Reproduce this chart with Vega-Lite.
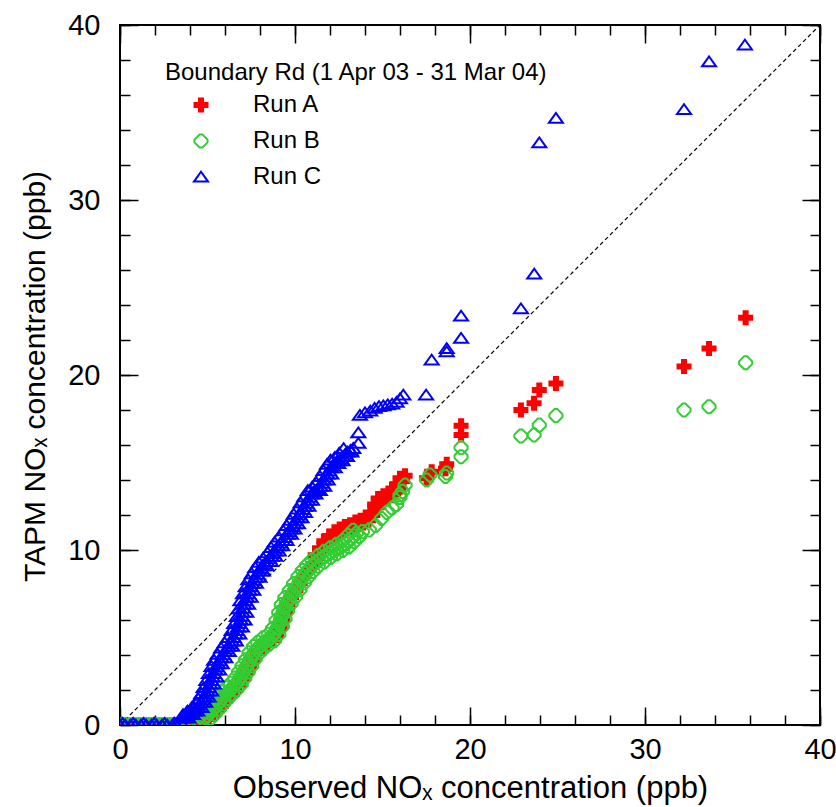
{
  "$schema": "https://vega.github.io/schema/vega-lite/v6.json",
  "autosize": "none",
  "padding": {"left": 120, "top": 25, "right": 16, "bottom": 82},
  "width": 700,
  "height": 700,
  "background": "white",
  "config": {
    "view": {"stroke": "black", "strokeWidth": 2},
    "font": "Liberation Sans"
  },
  "data": {"values": [
      {"run":"Run A","obs":0,"tapm":0},{"run":"Run A","obs":0.3,"tapm":0},{"run":"Run A","obs":0.6,"tapm":0},{"run":"Run A","obs":0.9,"tapm":0},{"run":"Run A","obs":1.2,"tapm":0},{"run":"Run A","obs":1.5,"tapm":0},{"run":"Run A","obs":1.8,"tapm":0},{"run":"Run A","obs":2.1,"tapm":0},{"run":"Run A","obs":2.4,"tapm":0},{"run":"Run A","obs":2.7,"tapm":0},{"run":"Run A","obs":3.0,"tapm":0},{"run":"Run A","obs":3.3,"tapm":0},{"run":"Run A","obs":3.6,"tapm":0},{"run":"Run A","obs":3.9,"tapm":0},{"run":"Run A","obs":4.2,"tapm":0},{"run":"Run A","obs":4.5,"tapm":0.02},
      {"run":"Run A","obs":4.8,"tapm":0.12},{"run":"Run A","obs":5.05,"tapm":0.35},{"run":"Run A","obs":5.3,"tapm":0.6},{"run":"Run A","obs":5.55,"tapm":0.85},{"run":"Run A","obs":5.8,"tapm":1.1},{"run":"Run A","obs":6.05,"tapm":1.4},{"run":"Run A","obs":6.3,"tapm":1.7},{"run":"Run A","obs":6.55,"tapm":2.0},{"run":"Run A","obs":6.8,"tapm":2.3},{"run":"Run A","obs":7.0,"tapm":2.65},{"run":"Run A","obs":7.2,"tapm":3.0},{"run":"Run A","obs":7.4,"tapm":3.35},{"run":"Run A","obs":7.6,"tapm":3.7},{"run":"Run A","obs":7.85,"tapm":4.1},{"run":"Run A","obs":8.1,"tapm":4.4},{"run":"Run A","obs":8.4,"tapm":4.65},{"run":"Run A","obs":8.7,"tapm":4.85},{"run":"Run A","obs":8.95,"tapm":5.15},{"run":"Run A","obs":9.15,"tapm":5.55},{"run":"Run A","obs":9.3,"tapm":6.0},{"run":"Run A","obs":9.45,"tapm":6.45},{"run":"Run A","obs":9.6,"tapm":6.9},{"run":"Run A","obs":9.8,"tapm":7.3},{"run":"Run A","obs":10.05,"tapm":7.7},{"run":"Run A","obs":10.3,"tapm":8.1},{"run":"Run A","obs":10.55,"tapm":8.5},{"run":"Run A","obs":10.8,"tapm":8.85},{"run":"Run A","obs":11.05,"tapm":9.2},{"run":"Run A","obs":11.3,"tapm":9.55},{"run":"Run A","obs":11.55,"tapm":9.95},{"run":"Run A","obs":11.8,"tapm":10.35},{"run":"Run A","obs":12.1,"tapm":10.65},{"run":"Run A","obs":12.4,"tapm":10.9},{"run":"Run A","obs":12.7,"tapm":11.05},{"run":"Run A","obs":13.0,"tapm":11.2},{"run":"Run A","obs":13.3,"tapm":11.3},{"run":"Run A","obs":13.6,"tapm":11.45},{"run":"Run A","obs":13.9,"tapm":11.55},{"run":"Run A","obs":14.2,"tapm":11.7},{"run":"Run A","obs":14.45,"tapm":12.0},{"run":"Run A","obs":14.7,"tapm":12.45},{"run":"Run A","obs":14.9,"tapm":12.8},{"run":"Run A","obs":15.2,"tapm":12.95},{"run":"Run A","obs":15.5,"tapm":13.1},{"run":"Run A","obs":15.75,"tapm":13.35},{"run":"Run A","obs":15.95,"tapm":13.6},{"run":"Run A","obs":16.15,"tapm":13.95},{"run":"Run A","obs":16.29,"tapm":14.25},
      {"run":"Run A","obs":11.15,"tapm":9.7},{"run":"Run A","obs":11.4,"tapm":10.1},{"run":"Run A","obs":11.65,"tapm":10.5},{"run":"Run A","obs":11.95,"tapm":10.8},{"run":"Run A","obs":12.25,"tapm":11.05},{"run":"Run A","obs":12.55,"tapm":11.2},{"run":"Run A","obs":12.85,"tapm":11.35},{"run":"Run A","obs":13.15,"tapm":11.45},{"run":"Run A","obs":13.45,"tapm":11.6},{"run":"Run A","obs":13.75,"tapm":11.7},{"run":"Run A","obs":14.05,"tapm":11.85},{"run":"Run A","obs":14.3,"tapm":12.15},{"run":"Run A","obs":14.55,"tapm":12.6},{"run":"Run A","obs":14.75,"tapm":12.95},{"run":"Run A","obs":15.05,"tapm":13.1},{"run":"Run A","obs":15.35,"tapm":13.25},{"run":"Run A","obs":15.6,"tapm":13.5},{"run":"Run A","obs":15.8,"tapm":13.75},{"run":"Run A","obs":16.0,"tapm":14.1},
      {"run":"Run A","obs":15.9,"tapm":13.5},{"run":"Run A","obs":17.52,"tapm":14.1},{"run":"Run A","obs":17.81,"tapm":14.47},{"run":"Run A","obs":18.6,"tapm":14.65},{"run":"Run A","obs":18.67,"tapm":14.9},{"run":"Run A","obs":19.49,"tapm":16.57},{"run":"Run A","obs":19.49,"tapm":17.1},{"run":"Run A","obs":22.91,"tapm":18.0},{"run":"Run A","obs":23.66,"tapm":18.38},{"run":"Run A","obs":23.96,"tapm":19.14},{"run":"Run A","obs":24.91,"tapm":19.52},{"run":"Run A","obs":32.23,"tapm":20.48},{"run":"Run A","obs":33.66,"tapm":21.52},{"run":"Run A","obs":35.75,"tapm":23.27},
      {"run":"Run B","obs":0,"tapm":0},{"run":"Run B","obs":0.3,"tapm":0},{"run":"Run B","obs":0.6,"tapm":0},{"run":"Run B","obs":0.9,"tapm":0},{"run":"Run B","obs":1.2,"tapm":0},{"run":"Run B","obs":1.5,"tapm":0},{"run":"Run B","obs":1.8,"tapm":0},{"run":"Run B","obs":2.1,"tapm":0},{"run":"Run B","obs":2.4,"tapm":0},{"run":"Run B","obs":2.7,"tapm":0},{"run":"Run B","obs":3.0,"tapm":0},{"run":"Run B","obs":3.3,"tapm":0},{"run":"Run B","obs":3.6,"tapm":0},{"run":"Run B","obs":3.9,"tapm":0},{"run":"Run B","obs":4.2,"tapm":0.02},
      {"run":"Run B","obs":4.5,"tapm":0.1},{"run":"Run B","obs":4.75,"tapm":0.3},{"run":"Run B","obs":5.0,"tapm":0.55},{"run":"Run B","obs":5.25,"tapm":0.8},{"run":"Run B","obs":5.5,"tapm":1.1},{"run":"Run B","obs":5.75,"tapm":1.4},{"run":"Run B","obs":6.0,"tapm":1.7},{"run":"Run B","obs":6.25,"tapm":1.95},{"run":"Run B","obs":6.5,"tapm":2.2},{"run":"Run B","obs":6.75,"tapm":2.5},{"run":"Run B","obs":6.95,"tapm":2.85},{"run":"Run B","obs":7.15,"tapm":3.2},{"run":"Run B","obs":7.35,"tapm":3.55},{"run":"Run B","obs":7.55,"tapm":3.95},{"run":"Run B","obs":7.8,"tapm":4.3},{"run":"Run B","obs":8.05,"tapm":4.55},{"run":"Run B","obs":8.35,"tapm":4.8},{"run":"Run B","obs":8.65,"tapm":5.0},{"run":"Run B","obs":8.9,"tapm":5.35},{"run":"Run B","obs":9.1,"tapm":5.8},{"run":"Run B","obs":9.25,"tapm":6.25},{"run":"Run B","obs":9.4,"tapm":6.7},{"run":"Run B","obs":9.6,"tapm":7.1},{"run":"Run B","obs":9.85,"tapm":7.5},{"run":"Run B","obs":10.1,"tapm":7.9},{"run":"Run B","obs":10.35,"tapm":8.3},{"run":"Run B","obs":10.6,"tapm":8.65},{"run":"Run B","obs":10.85,"tapm":8.95},{"run":"Run B","obs":11.15,"tapm":9.25},{"run":"Run B","obs":11.5,"tapm":9.5},{"run":"Run B","obs":11.85,"tapm":9.75},{"run":"Run B","obs":12.2,"tapm":9.95},{"run":"Run B","obs":12.55,"tapm":10.15},{"run":"Run B","obs":12.9,"tapm":10.35},{"run":"Run B","obs":13.2,"tapm":10.65},{"run":"Run B","obs":13.5,"tapm":10.95},{"run":"Run B","obs":13.85,"tapm":11.05},{"run":"Run B","obs":14.25,"tapm":11.15},{"run":"Run B","obs":14.6,"tapm":11.4},{"run":"Run B","obs":14.95,"tapm":11.8},{"run":"Run B","obs":15.25,"tapm":12.15},{"run":"Run B","obs":15.55,"tapm":12.4},{"run":"Run B","obs":15.8,"tapm":12.6},{"run":"Run B","obs":16.0,"tapm":13.0},{"run":"Run B","obs":16.15,"tapm":13.35},{"run":"Run B","obs":16.29,"tapm":13.71},
      {"run":"Run B","obs":4.87,"tapm":0.42},{"run":"Run B","obs":5.12,"tapm":0.67},{"run":"Run B","obs":5.37,"tapm":0.95},{"run":"Run B","obs":5.62,"tapm":1.25},{"run":"Run B","obs":5.87,"tapm":1.55},{"run":"Run B","obs":6.12,"tapm":1.82},{"run":"Run B","obs":6.37,"tapm":2.07},{"run":"Run B","obs":6.62,"tapm":2.35},{"run":"Run B","obs":6.85,"tapm":2.67},{"run":"Run B","obs":7.05,"tapm":3.02},{"run":"Run B","obs":7.25,"tapm":3.37},{"run":"Run B","obs":7.45,"tapm":3.75},{"run":"Run B","obs":7.67,"tapm":4.12},{"run":"Run B","obs":7.92,"tapm":4.42},{"run":"Run B","obs":8.2,"tapm":4.67},{"run":"Run B","obs":8.5,"tapm":4.9},{"run":"Run B","obs":8.77,"tapm":5.17},{"run":"Run B","obs":9.0,"tapm":5.57},{"run":"Run B","obs":9.17,"tapm":6.02},{"run":"Run B","obs":9.32,"tapm":6.47},{"run":"Run B","obs":9.5,"tapm":6.9},{"run":"Run B","obs":9.72,"tapm":7.3},{"run":"Run B","obs":9.97,"tapm":7.7},{"run":"Run B","obs":10.22,"tapm":8.1},{"run":"Run B","obs":10.47,"tapm":8.47},{"run":"Run B","obs":10.72,"tapm":8.8},{"run":"Run B","obs":11.0,"tapm":9.1},{"run":"Run B","obs":11.32,"tapm":9.37},{"run":"Run B","obs":11.67,"tapm":9.62},{"run":"Run B","obs":12.02,"tapm":9.85},{"run":"Run B","obs":12.37,"tapm":10.05},{"run":"Run B","obs":12.72,"tapm":10.25},{"run":"Run B","obs":13.05,"tapm":10.5},{"run":"Run B","obs":13.35,"tapm":10.8},
      {"run":"Run B","obs":5.18,"tapm":0.37},{"run":"Run B","obs":5.43,"tapm":0.62},{"run":"Run B","obs":5.68,"tapm":0.92},{"run":"Run B","obs":5.93,"tapm":1.22},{"run":"Run B","obs":6.18,"tapm":1.52},{"run":"Run B","obs":6.43,"tapm":1.77},{"run":"Run B","obs":6.68,"tapm":2.02},{"run":"Run B","obs":6.93,"tapm":2.32},{"run":"Run B","obs":7.13,"tapm":2.67},{"run":"Run B","obs":7.33,"tapm":3.02},{"run":"Run B","obs":7.53,"tapm":3.37},{"run":"Run B","obs":7.73,"tapm":3.77},{"run":"Run B","obs":7.98,"tapm":4.12},{"run":"Run B","obs":8.23,"tapm":4.37},{"run":"Run B","obs":8.53,"tapm":4.62},{"run":"Run B","obs":8.83,"tapm":4.82},{"run":"Run B","obs":9.08,"tapm":5.17},{"run":"Run B","obs":9.28,"tapm":5.62},{"run":"Run B","obs":9.43,"tapm":6.07},{"run":"Run B","obs":9.58,"tapm":6.52},{"run":"Run B","obs":9.78,"tapm":6.92},{"run":"Run B","obs":10.03,"tapm":7.32},{"run":"Run B","obs":10.28,"tapm":7.72},{"run":"Run B","obs":10.53,"tapm":8.12},{"run":"Run B","obs":10.78,"tapm":8.47},{"run":"Run B","obs":11.03,"tapm":8.77},{"run":"Run B","obs":11.33,"tapm":9.07},{"run":"Run B","obs":11.68,"tapm":9.32},{"run":"Run B","obs":12.03,"tapm":9.57},{"run":"Run B","obs":12.38,"tapm":9.77},{"run":"Run B","obs":12.73,"tapm":9.97},{"run":"Run B","obs":13.08,"tapm":10.17},{"run":"Run B","obs":13.38,"tapm":10.47},{"run":"Run B","obs":13.68,"tapm":10.77},
      {"run":"Run B","obs":4.57,"tapm":0.48},{"run":"Run B","obs":4.82,"tapm":0.73},{"run":"Run B","obs":5.07,"tapm":0.98},{"run":"Run B","obs":5.32,"tapm":1.28},{"run":"Run B","obs":5.57,"tapm":1.58},{"run":"Run B","obs":5.82,"tapm":1.88},{"run":"Run B","obs":6.07,"tapm":2.13},{"run":"Run B","obs":6.32,"tapm":2.38},{"run":"Run B","obs":6.57,"tapm":2.68},{"run":"Run B","obs":6.77,"tapm":3.03},{"run":"Run B","obs":6.97,"tapm":3.38},{"run":"Run B","obs":7.17,"tapm":3.73},{"run":"Run B","obs":7.37,"tapm":4.13},{"run":"Run B","obs":7.62,"tapm":4.48},{"run":"Run B","obs":7.87,"tapm":4.73},{"run":"Run B","obs":8.17,"tapm":4.98},{"run":"Run B","obs":8.47,"tapm":5.18},{"run":"Run B","obs":8.72,"tapm":5.53},{"run":"Run B","obs":8.92,"tapm":5.98},{"run":"Run B","obs":9.07,"tapm":6.43},{"run":"Run B","obs":9.22,"tapm":6.88},{"run":"Run B","obs":9.42,"tapm":7.28},{"run":"Run B","obs":9.67,"tapm":7.68},{"run":"Run B","obs":9.92,"tapm":8.08},{"run":"Run B","obs":10.17,"tapm":8.48},{"run":"Run B","obs":10.42,"tapm":8.83},{"run":"Run B","obs":10.67,"tapm":9.13},{"run":"Run B","obs":10.97,"tapm":9.43},{"run":"Run B","obs":11.32,"tapm":9.68},{"run":"Run B","obs":11.67,"tapm":9.93},{"run":"Run B","obs":12.02,"tapm":10.13},{"run":"Run B","obs":12.37,"tapm":10.33},{"run":"Run B","obs":12.72,"tapm":10.53},{"run":"Run B","obs":13.02,"tapm":10.83},{"run":"Run B","obs":13.32,"tapm":11.13},
      {"run":"Run B","obs":16.0,"tapm":13.14},{"run":"Run B","obs":17.52,"tapm":14.0},{"run":"Run B","obs":17.71,"tapm":14.29},{"run":"Run B","obs":18.6,"tapm":14.2},{"run":"Run B","obs":18.67,"tapm":14.4},{"run":"Run B","obs":19.49,"tapm":15.33},{"run":"Run B","obs":19.49,"tapm":15.85},{"run":"Run B","obs":22.91,"tapm":16.51},{"run":"Run B","obs":23.66,"tapm":16.57},{"run":"Run B","obs":23.96,"tapm":17.14},{"run":"Run B","obs":24.91,"tapm":17.68},{"run":"Run B","obs":32.23,"tapm":18.0},{"run":"Run B","obs":33.66,"tapm":18.19},{"run":"Run B","obs":35.75,"tapm":20.7},
      {"run":"Run C","obs":0,"tapm":0},{"run":"Run C","obs":0.3,"tapm":0},{"run":"Run C","obs":0.6,"tapm":0},{"run":"Run C","obs":0.9,"tapm":0},{"run":"Run C","obs":1.2,"tapm":0},{"run":"Run C","obs":1.5,"tapm":0},{"run":"Run C","obs":1.8,"tapm":0},{"run":"Run C","obs":2.1,"tapm":0},{"run":"Run C","obs":2.4,"tapm":0},{"run":"Run C","obs":2.7,"tapm":0},{"run":"Run C","obs":3.0,"tapm":0},
      {"run":"Run C","obs":0.15,"tapm":0.1},{"run":"Run C","obs":0.75,"tapm":0.1},{"run":"Run C","obs":1.35,"tapm":0.1},{"run":"Run C","obs":1.95,"tapm":0.1},{"run":"Run C","obs":2.55,"tapm":0.1},{"run":"Run C","obs":3.1,"tapm":0.12},
      {"run":"Run C","obs":3.2,"tapm":0.05},{"run":"Run C","obs":3.45,"tapm":0.2},{"run":"Run C","obs":3.7,"tapm":0.4},{"run":"Run C","obs":3.95,"tapm":0.6},{"run":"Run C","obs":4.2,"tapm":0.8},{"run":"Run C","obs":4.45,"tapm":1.0},{"run":"Run C","obs":4.65,"tapm":1.3},{"run":"Run C","obs":4.85,"tapm":1.6},{"run":"Run C","obs":5.0,"tapm":1.95},{"run":"Run C","obs":5.15,"tapm":2.35},{"run":"Run C","obs":5.3,"tapm":2.75},{"run":"Run C","obs":5.45,"tapm":3.15},{"run":"Run C","obs":5.6,"tapm":3.5},{"run":"Run C","obs":5.8,"tapm":3.85},{"run":"Run C","obs":6.0,"tapm":4.2},{"run":"Run C","obs":6.2,"tapm":4.5},{"run":"Run C","obs":6.4,"tapm":4.8},{"run":"Run C","obs":6.6,"tapm":5.2},{"run":"Run C","obs":6.75,"tapm":5.6},{"run":"Run C","obs":6.9,"tapm":6.0},{"run":"Run C","obs":7.0,"tapm":6.45},{"run":"Run C","obs":7.1,"tapm":6.9},{"run":"Run C","obs":7.25,"tapm":7.3},{"run":"Run C","obs":7.4,"tapm":7.7},{"run":"Run C","obs":7.55,"tapm":8.1},{"run":"Run C","obs":7.75,"tapm":8.45},{"run":"Run C","obs":7.95,"tapm":8.8},{"run":"Run C","obs":8.15,"tapm":9.1},{"run":"Run C","obs":8.4,"tapm":9.35},{"run":"Run C","obs":8.65,"tapm":9.65},{"run":"Run C","obs":8.85,"tapm":9.95},{"run":"Run C","obs":9.05,"tapm":10.25},{"run":"Run C","obs":9.3,"tapm":10.55},{"run":"Run C","obs":9.55,"tapm":10.9},{"run":"Run C","obs":9.75,"tapm":11.2},{"run":"Run C","obs":9.95,"tapm":11.5},{"run":"Run C","obs":10.15,"tapm":11.85},{"run":"Run C","obs":10.35,"tapm":12.15},{"run":"Run C","obs":10.55,"tapm":12.5},{"run":"Run C","obs":10.75,"tapm":12.85},{"run":"Run C","obs":10.95,"tapm":13.2},{"run":"Run C","obs":11.2,"tapm":13.4},{"run":"Run C","obs":11.45,"tapm":13.65},{"run":"Run C","obs":11.65,"tapm":14.0},{"run":"Run C","obs":11.85,"tapm":14.35},{"run":"Run C","obs":12.05,"tapm":14.7},{"run":"Run C","obs":12.25,"tapm":14.95},{"run":"Run C","obs":12.5,"tapm":15.1},{"run":"Run C","obs":12.75,"tapm":15.35},{"run":"Run C","obs":13.0,"tapm":15.6},{"run":"Run C","obs":13.33,"tapm":15.81},
      {"run":"Run C","obs":3.82,"tapm":0.5},{"run":"Run C","obs":4.07,"tapm":0.7},{"run":"Run C","obs":4.32,"tapm":0.9},{"run":"Run C","obs":4.55,"tapm":1.15},{"run":"Run C","obs":4.75,"tapm":1.45},{"run":"Run C","obs":4.92,"tapm":1.78},{"run":"Run C","obs":5.07,"tapm":2.15},{"run":"Run C","obs":5.22,"tapm":2.55},{"run":"Run C","obs":5.37,"tapm":2.95},{"run":"Run C","obs":5.52,"tapm":3.32},{"run":"Run C","obs":5.7,"tapm":3.68},{"run":"Run C","obs":5.9,"tapm":4.02},{"run":"Run C","obs":6.1,"tapm":4.35},{"run":"Run C","obs":6.3,"tapm":4.65},{"run":"Run C","obs":6.5,"tapm":5.0},{"run":"Run C","obs":6.67,"tapm":5.4},{"run":"Run C","obs":6.82,"tapm":5.8},{"run":"Run C","obs":6.95,"tapm":6.22},{"run":"Run C","obs":7.05,"tapm":6.67},{"run":"Run C","obs":7.17,"tapm":7.1},{"run":"Run C","obs":7.32,"tapm":7.5},{"run":"Run C","obs":7.47,"tapm":7.9},{"run":"Run C","obs":7.65,"tapm":8.27},{"run":"Run C","obs":7.85,"tapm":8.62},{"run":"Run C","obs":8.05,"tapm":8.95},{"run":"Run C","obs":8.27,"tapm":9.22},{"run":"Run C","obs":8.52,"tapm":9.5},{"run":"Run C","obs":8.75,"tapm":9.8},{"run":"Run C","obs":8.95,"tapm":10.1},{"run":"Run C","obs":9.17,"tapm":10.4},{"run":"Run C","obs":9.42,"tapm":10.72},{"run":"Run C","obs":9.65,"tapm":11.05},{"run":"Run C","obs":9.85,"tapm":11.35},{"run":"Run C","obs":10.05,"tapm":11.67},{"run":"Run C","obs":10.25,"tapm":12.0},{"run":"Run C","obs":10.45,"tapm":12.32},{"run":"Run C","obs":10.65,"tapm":12.67},{"run":"Run C","obs":10.85,"tapm":13.02},{"run":"Run C","obs":11.07,"tapm":13.3},{"run":"Run C","obs":11.32,"tapm":13.52},{"run":"Run C","obs":11.55,"tapm":13.82},{"run":"Run C","obs":11.75,"tapm":14.17},{"run":"Run C","obs":11.95,"tapm":14.52},{"run":"Run C","obs":12.15,"tapm":14.82},{"run":"Run C","obs":12.37,"tapm":15.02},{"run":"Run C","obs":12.62,"tapm":15.22},{"run":"Run C","obs":12.87,"tapm":15.47},{"run":"Run C","obs":13.17,"tapm":15.7},
      {"run":"Run C","obs":3.92,"tapm":0.4},{"run":"Run C","obs":4.17,"tapm":0.6},{"run":"Run C","obs":4.42,"tapm":0.8},{"run":"Run C","obs":4.67,"tapm":1.0},{"run":"Run C","obs":4.87,"tapm":1.3},{"run":"Run C","obs":5.07,"tapm":1.6},{"run":"Run C","obs":5.22,"tapm":1.95},{"run":"Run C","obs":5.37,"tapm":2.35},{"run":"Run C","obs":5.52,"tapm":2.75},{"run":"Run C","obs":5.67,"tapm":3.15},{"run":"Run C","obs":5.82,"tapm":3.5},{"run":"Run C","obs":6.02,"tapm":3.85},{"run":"Run C","obs":6.22,"tapm":4.2},{"run":"Run C","obs":6.42,"tapm":4.5},{"run":"Run C","obs":6.62,"tapm":4.8},{"run":"Run C","obs":6.82,"tapm":5.2},{"run":"Run C","obs":6.97,"tapm":5.6},{"run":"Run C","obs":7.12,"tapm":6.0},{"run":"Run C","obs":7.22,"tapm":6.45},{"run":"Run C","obs":7.32,"tapm":6.9},{"run":"Run C","obs":7.47,"tapm":7.3},{"run":"Run C","obs":7.62,"tapm":7.7},{"run":"Run C","obs":7.77,"tapm":8.1},{"run":"Run C","obs":7.97,"tapm":8.45},{"run":"Run C","obs":8.17,"tapm":8.8},{"run":"Run C","obs":8.37,"tapm":9.1},{"run":"Run C","obs":8.62,"tapm":9.35},{"run":"Run C","obs":8.87,"tapm":9.65},{"run":"Run C","obs":9.07,"tapm":9.95},{"run":"Run C","obs":9.27,"tapm":10.25},{"run":"Run C","obs":9.52,"tapm":10.55},{"run":"Run C","obs":9.77,"tapm":10.9},{"run":"Run C","obs":9.97,"tapm":11.2},{"run":"Run C","obs":10.17,"tapm":11.5},{"run":"Run C","obs":10.37,"tapm":11.85},{"run":"Run C","obs":10.57,"tapm":12.15},{"run":"Run C","obs":10.77,"tapm":12.5},{"run":"Run C","obs":10.97,"tapm":12.85},{"run":"Run C","obs":11.17,"tapm":13.2},{"run":"Run C","obs":11.42,"tapm":13.4},{"run":"Run C","obs":11.67,"tapm":13.65},{"run":"Run C","obs":11.87,"tapm":14.0},{"run":"Run C","obs":12.07,"tapm":14.35},{"run":"Run C","obs":12.27,"tapm":14.7},{"run":"Run C","obs":12.47,"tapm":14.95},{"run":"Run C","obs":12.72,"tapm":15.1},{"run":"Run C","obs":12.97,"tapm":15.35},{"run":"Run C","obs":13.22,"tapm":15.6},
      {"run":"Run C","obs":3.6,"tapm":0.6},{"run":"Run C","obs":3.85,"tapm":0.8},{"run":"Run C","obs":4.1,"tapm":1.0},{"run":"Run C","obs":4.35,"tapm":1.2},{"run":"Run C","obs":4.48,"tapm":1.5},{"run":"Run C","obs":4.65,"tapm":1.8},{"run":"Run C","obs":4.78,"tapm":2.15},{"run":"Run C","obs":4.93,"tapm":2.55},{"run":"Run C","obs":5.08,"tapm":2.95},{"run":"Run C","obs":5.23,"tapm":3.35},{"run":"Run C","obs":5.38,"tapm":3.7},{"run":"Run C","obs":5.58,"tapm":4.05},{"run":"Run C","obs":5.78,"tapm":4.4},{"run":"Run C","obs":5.98,"tapm":4.7},{"run":"Run C","obs":6.18,"tapm":5.0},{"run":"Run C","obs":6.38,"tapm":5.4},{"run":"Run C","obs":6.53,"tapm":5.8},{"run":"Run C","obs":6.68,"tapm":6.2},{"run":"Run C","obs":6.78,"tapm":6.65},{"run":"Run C","obs":6.88,"tapm":7.1},{"run":"Run C","obs":7.03,"tapm":7.5},{"run":"Run C","obs":7.18,"tapm":7.9},{"run":"Run C","obs":7.33,"tapm":8.3},{"run":"Run C","obs":7.53,"tapm":8.65},{"run":"Run C","obs":7.73,"tapm":9.0},{"run":"Run C","obs":7.93,"tapm":9.3},{"run":"Run C","obs":8.18,"tapm":9.55},{"run":"Run C","obs":8.43,"tapm":9.85},{"run":"Run C","obs":8.63,"tapm":10.15},{"run":"Run C","obs":8.83,"tapm":10.45},{"run":"Run C","obs":9.08,"tapm":10.75},{"run":"Run C","obs":9.33,"tapm":11.1},{"run":"Run C","obs":9.53,"tapm":11.4},{"run":"Run C","obs":9.73,"tapm":11.7},{"run":"Run C","obs":9.93,"tapm":12.05},{"run":"Run C","obs":10.13,"tapm":12.35},{"run":"Run C","obs":10.33,"tapm":12.7},{"run":"Run C","obs":10.53,"tapm":13.05},{"run":"Run C","obs":10.73,"tapm":13.4},{"run":"Run C","obs":10.98,"tapm":13.6},{"run":"Run C","obs":11.23,"tapm":13.85},{"run":"Run C","obs":11.43,"tapm":14.2},{"run":"Run C","obs":11.63,"tapm":14.55},{"run":"Run C","obs":11.83,"tapm":14.9},{"run":"Run C","obs":12.03,"tapm":15.15},{"run":"Run C","obs":12.28,"tapm":15.3},{"run":"Run C","obs":12.53,"tapm":15.55},{"run":"Run C","obs":12.78,"tapm":15.8},
      {"run":"Run C","obs":13.62,"tapm":16.1},{"run":"Run C","obs":13.62,"tapm":16.7},{"run":"Run C","obs":13.71,"tapm":17.7},{"run":"Run C","obs":14.0,"tapm":17.85},{"run":"Run C","obs":14.3,"tapm":17.95},{"run":"Run C","obs":14.55,"tapm":18.1},{"run":"Run C","obs":14.8,"tapm":18.2},{"run":"Run C","obs":15.05,"tapm":18.25},{"run":"Run C","obs":15.3,"tapm":18.3},{"run":"Run C","obs":15.55,"tapm":18.35},{"run":"Run C","obs":15.8,"tapm":18.45},{"run":"Run C","obs":16.0,"tapm":18.65},{"run":"Run C","obs":16.19,"tapm":18.86},{"run":"Run C","obs":17.49,"tapm":18.86},{"run":"Run C","obs":17.81,"tapm":20.86},{"run":"Run C","obs":18.67,"tapm":21.33},{"run":"Run C","obs":18.67,"tapm":21.52},{"run":"Run C","obs":19.49,"tapm":22.1},{"run":"Run C","obs":19.49,"tapm":23.37},{"run":"Run C","obs":22.91,"tapm":23.79},{"run":"Run C","obs":23.67,"tapm":25.77},{"run":"Run C","obs":23.96,"tapm":33.27},{"run":"Run C","obs":24.91,"tapm":34.67},{"run":"Run C","obs":32.23,"tapm":35.18},{"run":"Run C","obs":33.66,"tapm":37.9},{"run":"Run C","obs":35.71,"tapm":38.86}
  ]},
  "resolve": {"axis": {"x": "independent", "y": "independent"}},
  "layer": [
    {
      "data": {"values": [{"obs": 0, "tapm": 0}, {"obs": 40, "tapm": 40}]},
      "mark": {"type": "line", "color": "black", "strokeWidth": 1.2, "strokeDash": [4, 3]},
      "encoding": {
        "x": {"field": "obs", "type": "quantitative", "scale": {"domain": [0, 40], "nice": false}, "axis": null},
        "y": {"field": "tapm", "type": "quantitative", "scale": {"domain": [0, 40], "nice": false}, "axis": null}
      }
    },
    {
      "mark": {"type": "point", "opacity": 0},
      "encoding": {
        "x": {"field": "obs", "type": "quantitative", "scale": {"domain": [0, 40], "nice": false},
          "axis": {"orient": "bottom", "values": [0,2,4,6,8,10,12,14,16,18,20,22,24,26,28,30,32,34,36,38,40], "labels": false, "title": null, "domainColor": "black", "grid": false, "tickSize": -10, "tickWidth": 1.5, "tickColor": "black"}},
        "y": {"field": "tapm", "type": "quantitative", "scale": {"domain": [0, 40], "nice": false},
          "axis": {"orient": "left", "values": [0,2,4,6,8,10,12,14,16,18,20,22,24,26,28,30,32,34,36,38,40], "labels": false, "title": null, "domainColor": "black", "grid": false, "tickSize": -10, "tickWidth": 1.5, "tickColor": "black"}}
      }
    },
    {
      "mark": {"type": "point", "opacity": 0},
      "encoding": {
        "x": {"field": "obs", "type": "quantitative", "scale": {"domain": [0, 40], "nice": false},
          "axis": {"orient": "top", "values": [0,10,20,30,40], "labels": false, "title": null, "domainColor": "black", "grid": false, "tickSize": -18, "tickWidth": 1.5, "tickColor": "black"}},
        "y": {"field": "tapm", "type": "quantitative", "scale": {"domain": [0, 40], "nice": false},
          "axis": {"orient": "right", "values": [0,10,20,30,40], "labels": false, "title": null, "domainColor": "black", "grid": false, "tickSize": -18, "tickWidth": 1.5, "tickColor": "black"}}
      }
    },
    {
      "mark": {"type": "point", "opacity": 0},
      "encoding": {
        "x": {"field": "obs", "type": "quantitative", "scale": {"domain": [0, 40], "nice": false},
          "axis": {"orient": "top", "values": [0,2,4,6,8,10,12,14,16,18,20,22,24,26,28,30,32,34,36,38,40], "labels": false, "title": null, "domainColor": "black", "grid": false, "tickSize": -10, "tickWidth": 1.5, "tickColor": "black"}},
        "y": {"field": "tapm", "type": "quantitative", "scale": {"domain": [0, 40], "nice": false},
          "axis": {"orient": "right", "values": [0,2,4,6,8,10,12,14,16,18,20,22,24,26,28,30,32,34,36,38,40], "labels": false, "title": null, "domainColor": "black", "grid": false, "tickSize": -10, "tickWidth": 1.5, "tickColor": "black"}}
      }
    },
    {
      "mark": {"type": "point", "opacity": 0},
      "encoding": {
        "x": {"field": "obs", "type": "quantitative", "scale": {"domain": [0, 40], "nice": false},
          "axis": {"orient": "bottom", "values": [0,10,20,30,40], "labels": false, "title": null, "domainColor": "black", "grid": false, "tickSize": -18, "tickWidth": 1.5, "tickColor": "black"}},
        "y": {"field": "tapm", "type": "quantitative", "scale": {"domain": [0, 40], "nice": false},
          "axis": {"orient": "left", "values": [0,10,20,30,40], "labels": false, "title": null, "domainColor": "black", "grid": false, "tickSize": -18, "tickWidth": 1.5, "tickColor": "black"}}
      }
    },
    {
      "mark": {"type": "point", "opacity": 1, "strokeWidth": 2, "clip": true},
      "encoding": {
        "x": {"field": "obs", "type": "quantitative", "scale": {"domain": [0, 40], "nice": false},
          "axis": {"orient": "bottom", "values": [0,10,20,30,40], "domainColor": "black", "grid": false, "ticks": false, "tickSize": 0, "labelPadding": 10, "labelFlush": false, "labelFont": "Liberation Sans", "labelFontSize": 29, "labelColor": "black", "title": "Observed NOₓ concentration (ppb)", "titleFont": "Liberation Sans", "titleFontSize": 31, "titleFontWeight": "normal", "titleColor": "black", "titlePadding": 9}},
        "y": {"field": "tapm", "type": "quantitative", "scale": {"domain": [0, 40], "nice": false},
          "axis": {"orient": "left", "values": [0,10,20,30,40], "domainColor": "black", "grid": false, "ticks": false, "tickSize": 0, "labelPadding": 20, "labelFont": "Liberation Sans", "labelFontSize": 29, "labelColor": "black", "title": "TAPM NOₓ concentration (ppb)", "titleFont": "Liberation Sans", "titleFontSize": 30, "titleFontWeight": "normal", "titleColor": "black", "titleX": -85, "titleY": 351, "titleBaseline": "middle"}},
        "fill": {"field": "run", "type": "nominal", "title": "Boundary Rd (1 Apr 03 - 31 Mar 04)",
          "scale": {"domain": ["Run A", "Run B", "Run C"], "range": ["#ff0000", "transparent", "transparent"]},
          "legend": {"orient": "none", "legendX": 45, "legendY": 36, "padding": 0, "titleFont": "Liberation Sans", "titleFontSize": 24, "titleFontWeight": "normal", "titleColor": "black", "titlePadding": 8, "titleLimit": 600, "labelFont": "Liberation Sans", "labelFontSize": 24, "labelColor": "black", "labelOffset": 40, "symbolOffset": 24, "rowPadding": 12, "symbolStrokeWidth": 2, "symbolOpacity": 1}},
        "stroke": {"field": "run", "type": "nominal", "title": "Boundary Rd (1 Apr 03 - 31 Mar 04)",
          "scale": {"domain": ["Run A", "Run B", "Run C"], "range": ["transparent", "#32cd32", "#0000ff"]}},
        "shape": {"field": "run", "type": "nominal", "title": "Boundary Rd (1 Apr 03 - 31 Mar 04)",
          "scale": {"domain": ["Run A", "Run B", "Run C"], "range": ["cross", "M-0.2,-0.9L0.2,-0.9L0.9,-0.2L0.9,0.2L0.2,0.9L-0.2,0.9L-0.9,0.2L-0.9,-0.2Z", "M-1,0.65L1,0.65L0,-0.75Z"]}},
        "size": {"field": "run", "type": "nominal", "title": "Boundary Rd (1 Apr 03 - 31 Mar 04)",
          "scale": {"domain": ["Run A", "Run B", "Run C"], "range": [225, 196, 144]}}
      }
    }
  ]
}
